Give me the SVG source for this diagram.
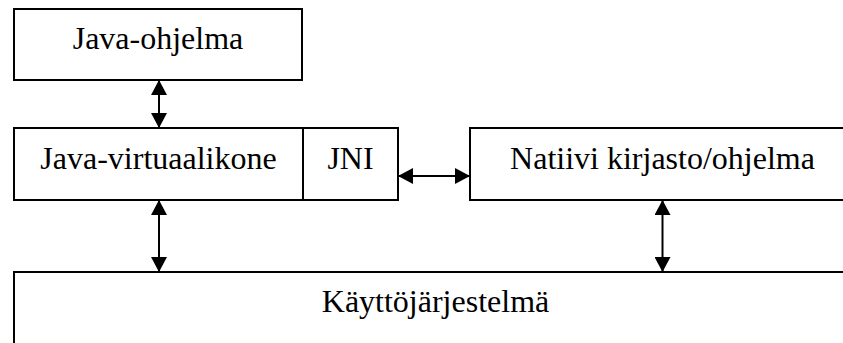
<svg xmlns="http://www.w3.org/2000/svg" width="843" height="343" viewBox="0 0 843 343">
  <style>
    .box { fill: #fff; stroke: #000; stroke-width: 2; }
    .lbl { font-family: "Liberation Serif", "Times New Roman", serif; font-size: 32px; fill: #000; text-anchor: middle; }
    .conn { stroke: #000; stroke-width: 2; fill: none; marker-start: url(#head); marker-end: url(#head); }
  </style>
  <defs>
    <!-- filled triangular head, used at both ends of each connector -->
    <marker id="head" viewBox="0 0 15 16" refX="15" refY="8" markerWidth="15" markerHeight="16" markerUnits="userSpaceOnUse" orient="auto-start-reverse">
      <path d="M0,0 L15,8 L0,16 Z" fill="#000"/>
    </marker>
  </defs>

  <g id="java-ohjelma">
    <rect class="box" x="14" y="9" width="288" height="71"/>
    <text class="lbl" x="158" y="49">Java-ohjelma</text>
  </g>

  <g id="java-virtuaalikone">
    <rect class="box" x="14" y="128" width="289" height="72"/>
    <text class="lbl" x="158.5" y="169">Java-virtuaalikone</text>
  </g>

  <g id="jni">
    <rect class="box" x="303" y="128" width="95" height="72"/>
    <text class="lbl" x="350.5" y="169">JNI</text>
  </g>

  <g id="natiivi">
    <rect class="box" x="470" y="128" width="390" height="72"/>
    <text class="lbl" x="662.5" y="169">Natiivi kirjasto/ohjelma</text>
  </g>

  <g id="kayttojarjestelma">
    <rect class="box" x="14" y="272" width="846" height="90"/>
    <text class="lbl" x="435.5" y="312">Käyttöjärjestelmä</text>
  </g>

  <g id="connectors">
    <line class="conn" x1="159" y1="80" x2="159" y2="128"/>
    <line class="conn" x1="398" y1="176" x2="470" y2="176"/>
    <line class="conn" x1="159" y1="200" x2="159" y2="272"/>
    <line class="conn" x1="662.5" y1="200" x2="662.5" y2="272"/>
  </g>
</svg>
